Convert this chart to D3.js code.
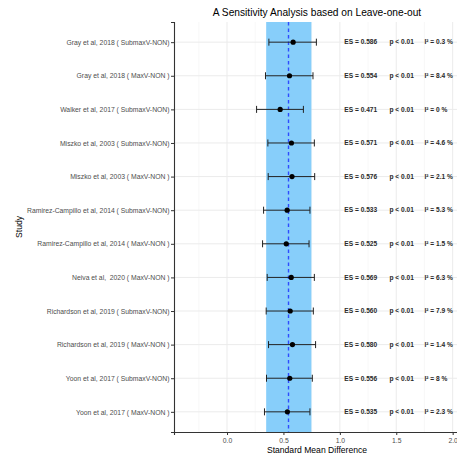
<!DOCTYPE html>
<html>
<head>
<meta charset="utf-8">
<script src="https://cdnjs.cloudflare.com/ajax/libs/d3/7.8.5/d3.min.js"></script>
<style>
  html, body { margin: 0; padding: 0; background: #fff; }
  svg { display: block; font-family: "Liberation Sans", Arial, sans-serif; }
  text { white-space: pre; }
</style>
</head>
<body>
<svg id="chart" width="457" height="457"></svg>
<script>
// Leave-one-out sensitivity analysis: one row per omitted study
const studies = [
  "Gray et al, 2018 ( SubmaxV-NON)",
  "Gray et al, 2018 ( MaxV-NON )",
  "Walker et al, 2017 ( SubmaxV-NON)",
  "Miszko et al, 2003 ( SubmaxV-NON)",
  "Miszko et al, 2003 ( MaxV-NON )",
  "Ramirez-Campillo et al, 2014 ( SubmaxV-NON)",
  "Ramirez-Campillo et al, 2014 ( MaxV-NON )",
  "Neiva et al,  2020 ( MaxV-NON )",
  "Richardson et al, 2019 ( SubmaxV-NON)",
  "Richardson et al, 2019 ( MaxV-NON )",
  "Yoon et al, 2017 ( SubmaxV-NON)",
  "Yoon et al, 2017 ( MaxV-NON )"
];
const es    = [0.586, 0.554, 0.471, 0.571, 0.576, 0.533, 0.525, 0.569, 0.560, 0.580, 0.556, 0.535];
const ciLow = [0.371, 0.341, 0.262, 0.362, 0.365, 0.324, 0.315, 0.356, 0.347, 0.368, 0.350, 0.332];
const ciHigh= [0.792, 0.762, 0.677, 0.774, 0.777, 0.735, 0.727, 0.774, 0.765, 0.785, 0.756, 0.735];
const pText = ["p < 0.01","p < 0.01","p < 0.01","p < 0.01","p < 0.01","p < 0.01",
               "p < 0.01","p < 0.01","p < 0.01","p < 0.01","p < 0.01","p < 0.01"];
const i2    = ["0.3","8.4","0","4.6","2.1","5.3","1.5","6.3","7.9","1.4","8","2.3"];

// pooled estimate and its confidence interval
const pooled = { es: 0.545, low: 0.347, high: 0.748 };

const xTicks = [0, 0.5, 1, 1.5, 2];
const xMinor = [-0.25, 0.25, 0.75, 1.25, 1.75];

const svg = d3.select("#chart");
const panel = { left: 174, right: 460, top: 22, bottom: 432 };

const x = d3.scaleLinear().domain([-0.47, 2.065]).range([panel.left, 460]);
const y = d3.scalePoint().domain(studies).range([panel.top, panel.bottom]).padding(0.6);

const g = svg.append("g");

// grid
g.selectAll(".minor").data(xMinor).join("line")
  .attr("x1", d => x(d)).attr("x2", d => x(d))
  .attr("y1", panel.top).attr("y2", panel.bottom)
  .attr("stroke", "#f4f4f4").attr("stroke-width", 0.6);
g.selectAll(".majorx").data(xTicks).join("line")
  .attr("x1", d => x(d)).attr("x2", d => x(d))
  .attr("y1", panel.top).attr("y2", panel.bottom)
  .attr("stroke", "#ebebeb").attr("stroke-width", 1);
g.selectAll(".majory").data(studies).join("line")
  .attr("x1", panel.left).attr("x2", 457)
  .attr("y1", d => y(d)).attr("y2", d => y(d))
  .attr("stroke", "#ebebeb").attr("stroke-width", 1);

// pooled confidence band and estimate
g.append("rect")
  .attr("x", x(pooled.low)).attr("width", x(pooled.high) - x(pooled.low))
  .attr("y", panel.top).attr("height", panel.bottom - panel.top)
  .attr("fill", "#87cefa");
g.append("line")
  .attr("x1", x(pooled.es)).attr("x2", x(pooled.es))
  .attr("y1", panel.top).attr("y2", panel.bottom)
  .attr("stroke", "#2f4bff").attr("stroke-width", 1.4)
  .attr("stroke-dasharray", "3.5,3");

// error bars
const rows = studies.map((s, i) => ({ s, es: es[i], lo: ciLow[i], hi: ciHigh[i], p: pText[i], i2: i2[i] }));
const bars = g.selectAll(".bar").data(rows).join("g");
bars.append("line")
  .attr("x1", d => x(d.lo)).attr("x2", d => x(d.hi))
  .attr("y1", d => y(d.s)).attr("y2", d => y(d.s))
  .attr("stroke", "#222").attr("stroke-width", 1);
bars.append("line")
  .attr("x1", d => x(d.lo)).attr("x2", d => x(d.lo))
  .attr("y1", d => y(d.s) - 3.5).attr("y2", d => y(d.s) + 3.5)
  .attr("stroke", "#222").attr("stroke-width", 1);
bars.append("line")
  .attr("x1", d => x(d.hi)).attr("x2", d => x(d.hi))
  .attr("y1", d => y(d.s) - 3.5).attr("y2", d => y(d.s) + 3.5)
  .attr("stroke", "#222").attr("stroke-width", 1);
bars.append("circle")
  .attr("cx", d => x(d.es)).attr("cy", d => y(d.s)).attr("r", 2.6)
  .attr("fill", "#000");

// statistics text
const txt = g.selectAll(".stats").data(rows).join("g")
  .attr("font-size", 6.6).attr("fill", "#2a2a2a").attr("font-weight", "bold");
txt.append("text").attr("x", x(1.04)).attr("y", d => y(d.s) + 2.3)
  .text(d => "ES = " + d.es.toFixed(3));
txt.append("text").attr("x", x(1.44)).attr("y", d => y(d.s) + 2.3)
  .text(d => d.p);
txt.append("text").attr("x", x(1.75)).attr("y", d => y(d.s) + 2.3)
  .text(d => "I² = " + d.i2 + " %");

// axes
const yAxis = svg.append("g").attr("transform", `translate(${panel.left},0)`)
  .call(d3.axisLeft(y).tickSize(3).tickPadding(1.5));
yAxis.select(".domain").attr("stroke", "#333").attr("stroke-width", 1.1);
yAxis.selectAll(".tick line").attr("stroke", "#333");
yAxis.selectAll(".tick text").attr("font-size", 6.8).attr("fill", "#4d4d4d")
  .attr("font-family", "Liberation Sans, Arial, sans-serif");

const xAxis = svg.append("g").attr("transform", `translate(0,${panel.bottom})`)
  .call(d3.axisBottom(x).tickValues(xTicks).tickFormat(d3.format(".1f")).tickSize(3).tickPadding(3));
xAxis.select(".domain").attr("stroke", "#333").attr("stroke-width", 1.1);
xAxis.selectAll(".tick line").attr("stroke", "#333");
xAxis.selectAll(".tick text").attr("font-size", 6.8).attr("fill", "#4d4d4d")
  .attr("font-family", "Liberation Sans, Arial, sans-serif");

// titles
svg.append("text").attr("x", 317).attr("y", 16).attr("text-anchor", "middle")
  .attr("font-size", 10.2).attr("fill", "#000")
  .text("A Sensitivity Analysis based on Leave-one-out");
svg.append("text").attr("x", 317).attr("y", 453).attr("text-anchor", "middle")
  .attr("font-size", 8.6).attr("fill", "#000")
  .text("Standard Mean Difference");
svg.append("text").attr("transform", "translate(22,227) rotate(-90)")
  .attr("text-anchor", "middle").attr("font-size", 8.6).attr("fill", "#000")
  .text("Study");
</script>
</body>
</html>
